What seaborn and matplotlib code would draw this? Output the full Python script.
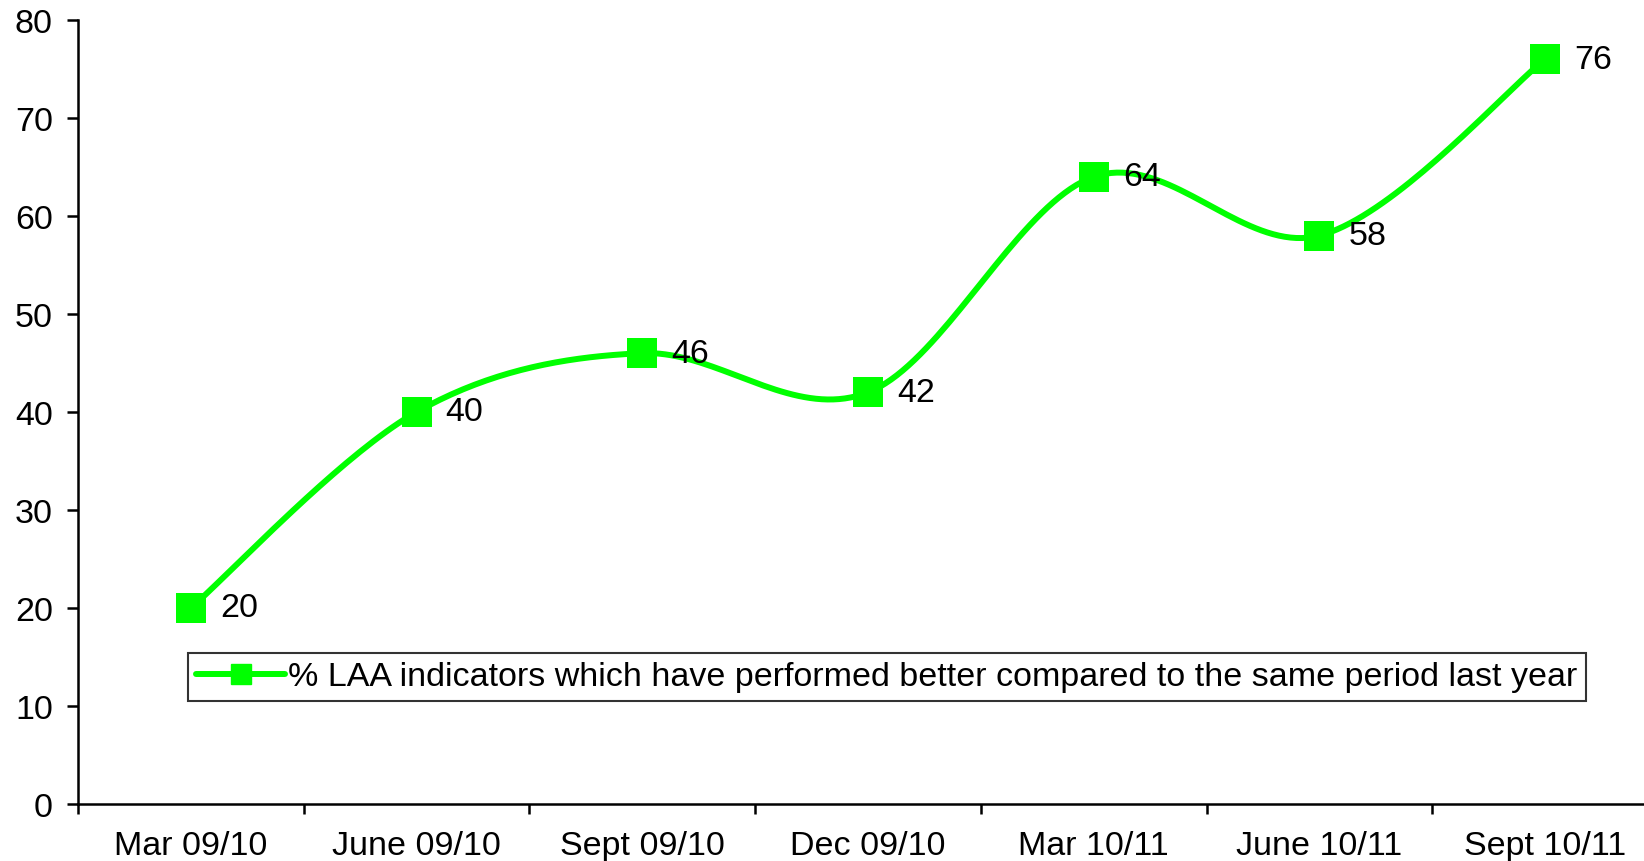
import numpy as np
import matplotlib
matplotlib.use("Agg")
import matplotlib.pyplot as plt
import seaborn as sns
from matplotlib.lines import Line2D

periods = ["Mar 09/10", "June 09/10", "Sept 09/10", "Dec 09/10",
           "Mar 10/11", "June 10/11", "Sept 10/11"]
pct_better = [20, 40, 46, 42, 64, 58, 76]
series_name = "% LAA indicators which have performed better compared to the same period last year"

green = "#00FF00"

sns.set_theme(style="white")
plt.rcParams["font.family"] = ["Liberation Sans", "DejaVu Sans"]


def excel_smooth(xs, ys, n=40):
    # catmull-rom style bezier, like excel "smoothed line"
    pts = np.column_stack([xs, ys]).astype(float)
    out = []
    for i in range(len(pts) - 1):
        p0 = pts[i - 1] if i > 0 else pts[i]
        p1, p2 = pts[i], pts[i + 1]
        p3 = pts[i + 2] if i + 2 < len(pts) else pts[i + 1]
        c1 = p1 + (p2 - p0) / 6.0
        c2 = p2 - (p3 - p1) / 6.0
        t = np.linspace(0, 1, n)[:, None]
        seg = ((1 - t) ** 3) * p1 + 3 * ((1 - t) ** 2) * t * c1 + 3 * (1 - t) * t ** 2 * c2 + t ** 3 * p2
        out.append(seg if i == 0 else seg[1:])
    return np.vstack(out)


fig = plt.figure(figsize=(16.44, 8.62), dpi=100)
ax = fig.add_axes([78 / 1644, 57 / 862, 1580 / 1644, 784 / 862])

xpos = np.arange(len(periods))
curve = excel_smooth(xpos, pct_better)
ax.plot(curve[:, 0], curve[:, 1], color=green, lw=4.3, solid_capstyle="round", zorder=2)
sns.scatterplot(x=xpos, y=pct_better, marker="s", s=22 ** 2, color=green,
                edgecolor=green, linewidth=0, ax=ax, zorder=3)

for x, v in zip(xpos, pct_better):
    ax.annotate(str(v), (x, v), xytext=(21, 0), textcoords="offset points",
                ha="left", va="center", fontsize=24.5, color="black")

ax.set_xlim(-0.5, len(periods) - 0.5)
ax.set_ylim(0, 80)
ax.set_yticks(range(0, 81, 10))
ax.set_xticks(xpos)
ax.set_xticklabels(periods)
ax.set_xticks(np.arange(-0.5, len(periods), 1.0), minor=True)
ax.tick_params(axis="x", which="major", length=0, pad=19, labelsize=24.5, labelcolor="black")
ax.tick_params(axis="x", which="minor", length=7, width=1.8, direction="out", bottom=True, color="black")
ax.tick_params(axis="y", length=8, width=1.8, direction="out", left=True, pad=10, labelsize=24.5,
               color="black", labelcolor="black")

for s in ["top", "right"]:
    ax.spines[s].set_visible(False)
for s in ["left", "bottom"]:
    ax.spines[s].set_color("black")
    ax.spines[s].set_linewidth(1.8)
ax.grid(False)

handle = Line2D([], [], color=green, lw=4.3, marker="s", markersize=14)
leg = fig.legend([handle], [series_name], loc="center", bbox_to_anchor=(887 / 1644, 1 - 678 / 862),
                 fontsize=24.5, frameon=True, fancybox=False, handlelength=2.6, handletextpad=0.1,
                 borderpad=0.25, borderaxespad=0)
leg.get_frame().set_edgecolor("black")
leg.get_frame().set_linewidth(1.5)
for t in leg.get_texts():
    t.set_color("black")

fig.savefig("out.png", dpi=100)
